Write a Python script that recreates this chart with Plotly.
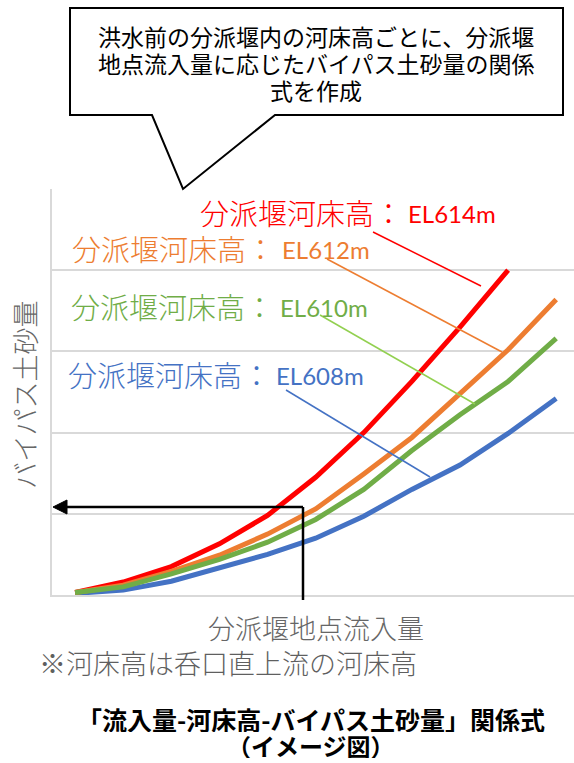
import plotly.graph_objects as go

# Inflow steps (category positions along the horizontal axis)
inflow_steps = list(range(11))

# Bypass sediment volume per river-bed elevation (relative units)
el614 = [0.03, 0.16, 0.35, 0.63, 0.98, 1.45, 2.00, 2.63, 3.30, 4.00]
el612 = [0.03, 0.12, 0.29, 0.49, 0.75, 1.06, 1.49, 1.94, 2.48, 3.02, 3.64]
el610 = [0.03, 0.10, 0.26, 0.44, 0.65, 0.93, 1.30, 1.78, 2.22, 2.63, 3.16]
el608 = [0.02, 0.06, 0.17, 0.33, 0.50, 0.70, 0.97, 1.30, 1.60, 1.99, 2.42]

series_labels = ["EL614m", "EL612m", "EL610m", "EL608m"]
label_prefix = "分派堰河床高："

W, H = 574, 763
L, R, T, B = 52, 574, 189, 595

JP = "Noto Sans CJK JP"
LAT = "Lato"


def fx(px):
    return (px - L) / (R - L)


def fy(py):
    return (B - py) / (B - T)


fig = go.Figure()

series = [
    (el608, "#4472C4", series_labels[3]),
    (el614, "#FF0000", series_labels[0]),
    (el612, "#ED7D31", series_labels[1]),
    (el610, "#70AD47", series_labels[2]),
]
for vals, col, name in series:
    fig.add_trace(go.Scatter(
        x=inflow_steps[:len(vals)], y=vals, mode="lines", name=name,
        line=dict(color=col, width=5), showlegend=False, hoverinfo="skip",
    ))

shapes = []
annotations = []


def seg(x0, y0, x1, y1, color, width):
    shapes.append(dict(type="line", xref="paper", yref="paper",
                       x0=fx(x0), y0=fy(y0), x1=fx(x1), y1=fy(y1),
                       line=dict(color=color, width=width), layer="above"))


def text(px, py, s, size, color, family=JP, xanchor="center", bold=False,
         angle=0, weight=None, box_h=None):
    if bold:
        s = "<b>" + s + "</b>"
    font = dict(family=family, size=size, color=color)
    if weight is not None:
        font["weight"] = weight
    ann = dict(xref="paper", yref="paper", x=fx(px), y=fy(py),
               text=s, showarrow=False, xanchor=xanchor, yanchor="middle",
               textangle=angle, borderpad=0, font=font)
    if box_h is not None:
        ann["height"] = box_h
    annotations.append(ann)


# Series labels with leader lines
label_specs = [
    # (jp_x, el_x, y, color, leader color, leader start, leader end)
    (199, 407, 212, "#FF0000", "#FF0000", (373, 232), (481, 286)),
    (71, 281, 248, "#ED7D31", "#ED7D31", (327, 259), (502, 352)),
    (70, 279, 306, "#70AD47", "#92D050", (320, 315), (475, 404)),
    (67, 275, 374, "#4472C4", "#4472C4", (286, 390), (430, 477)),
]
for (jx, ex, y, col, lcol, p0, p1), name in zip(label_specs, series_labels):
    text(jx, y, label_prefix, 29, col, JP, xanchor="left", weight=300)
    text(ex, y + 1, name, 24, col, LAT, xanchor="left")
    seg(p0[0], p0[1], p1[0], p1[1], lcol, 1.5)

# Reading arrow: from inflow up to curve, then across to the volume axis
seg(303, 600, 303, 507, "black", 2.5)
seg(303, 507, 64, 507, "black", 2.5)
tri = [(53, 507), (67, 500), (67, 514)]
shapes.append(dict(type="path", xref="paper", yref="paper",
                   path="M " + " L ".join(f"{fx(a)},{fy(b)}" for a, b in tri) + " Z",
                   fillcolor="black", line=dict(color="black", width=1), layer="above"))

# Speech bubble
bubble = [(70, 8), (563, 8), (563, 115), (275, 115), (183, 189), (152, 115), (70, 115)]
shapes.append(dict(type="path", xref="paper", yref="paper",
                   path="M " + " L ".join(f"{fx(a)},{fy(b)}" for a, b in bubble) + " Z",
                   fillcolor="white", line=dict(color="black", width=2), layer="above"))
text(316, 36, "洪水前の分派堰内の河床高ごとに、分派堰", 23, "black", box_h=26)
text(316, 63, "地点流入量に応じたバイパス土砂量の関係", 23, "black", box_h=26)
text(316, 90, "式を作成", 23, "black", box_h=26)

# Axis titles and notes
text(24, 395, "バイパス土砂量", 27, "#666666", angle=-90, weight=300)
text(316, 627, "分派堰地点流入量", 27, "#666666", weight=300)
text(38, 662, "※河床高は呑口直上流の河床高", 27, "#5f5f5f", xanchor="left", weight=300)
text(311, 718, "「流入量-河床高-バイパス土砂量」関係式", 25, "black", bold=True, box_h=27)
text(311, 745, "（イメージ図）", 24, "black", bold=True, box_h=26)

fig.update_layout(
    width=W, height=H,
    margin=dict(l=L, r=W - R, t=T, b=H - B),
    paper_bgcolor="white", plot_bgcolor="white",
    shapes=shapes, annotations=annotations,
    xaxis=dict(range=[-0.48, 10.37], showgrid=False, zeroline=False,
               showticklabels=False, ticks="", showline=True,
               linecolor="#d9d9d9", linewidth=2, fixedrange=True),
    yaxis=dict(range=[0, 5], dtick=1, showgrid=True, gridcolor="#d9d9d9", gridwidth=2,
               zeroline=False, showticklabels=False, ticks="", showline=True,
               linecolor="#d9d9d9", linewidth=2, fixedrange=True),
)

fig.write_html("out.html")
